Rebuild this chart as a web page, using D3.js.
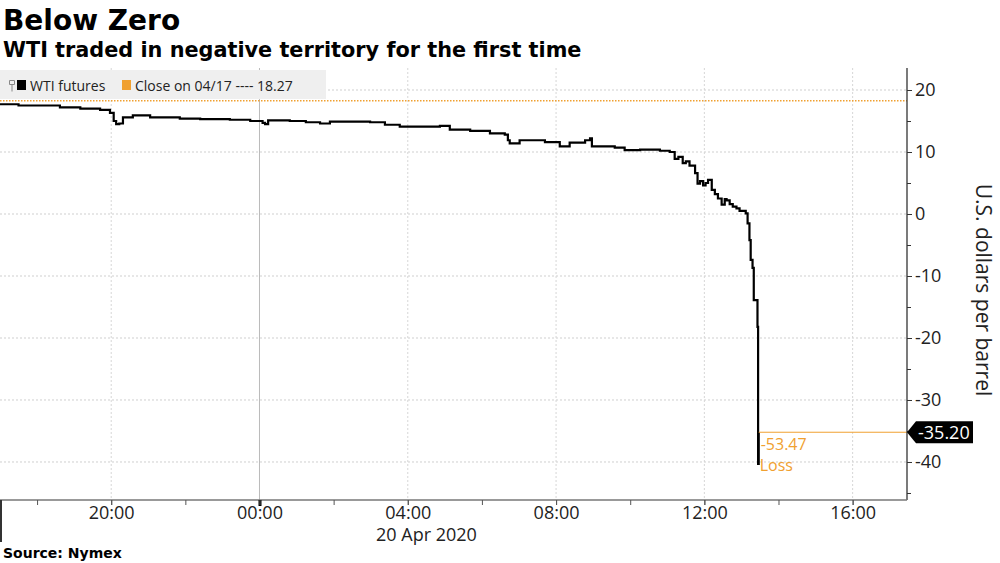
<!DOCTYPE html>
<html>
<head>
<meta charset="utf-8">
<script src="https://cdn.jsdelivr.net/npm/d3@7"></script>
<style>
  body { margin: 0; background: #fff; }
  svg { display: block; }
  .tick text { font-family: "Open Sans", sans-serif; }
</style>
</head>
<body>
<svg id="viz" width="1000" height="563"></svg>
<script>
// price readings, WTI May futures, 19-20 Apr 2020
var times = [
	"2020-04-19 17:00", "2020-04-19 17:30", "2020-04-19 18:37", "2020-04-19 19:10", "2020-04-19 19:42",
	"2020-04-19 19:58", "2020-04-19 20:04", "2020-04-19 20:08", "2020-04-19 20:13", "2020-04-19 20:19",
	"2020-04-19 20:35", "2020-04-19 21:03", "2020-04-19 21:51", "2020-04-19 22:24", "2020-04-19 23:12",
	"2020-04-19 23:45", "2020-04-20 00:05", "2020-04-20 00:09", "2020-04-20 00:14", "2020-04-20 00:49",
	"2020-04-20 01:15", "2020-04-20 01:38", "2020-04-20 01:54", "2020-04-20 02:59", "2020-04-20 03:23",
	"2020-04-20 03:47", "2020-04-20 04:52", "2020-04-20 05:08", "2020-04-20 05:41", "2020-04-20 06:13",
	"2020-04-20 06:37", "2020-04-20 06:42", "2020-04-20 06:45", "2020-04-20 07:01", "2020-04-20 07:42",
	"2020-04-20 08:06", "2020-04-20 08:22", "2020-04-20 08:47", "2020-04-20 08:55", "2020-04-20 08:58",
	"2020-04-20 09:35", "2020-04-20 09:51", "2020-04-20 10:16", "2020-04-20 10:48", "2020-04-20 11:04",
	"2020-04-20 11:12", "2020-04-20 11:18", "2020-04-20 11:25", "2020-04-20 11:30", "2020-04-20 11:36",
	"2020-04-20 11:45", "2020-04-20 11:49", "2020-04-20 11:53", "2020-04-20 11:58", "2020-04-20 12:02",
	"2020-04-20 12:06", "2020-04-20 12:12", "2020-04-20 12:17", "2020-04-20 12:22", "2020-04-20 12:28",
	"2020-04-20 12:33", "2020-04-20 12:36", "2020-04-20 12:41", "2020-04-20 12:46", "2020-04-20 12:52",
	"2020-04-20 12:57", "2020-04-20 13:07", "2020-04-20 13:10", "2020-04-20 13:13", "2020-04-20 13:15",
	"2020-04-20 13:18", "2020-04-20 13:20", "2020-04-20 13:26", "2020-04-20 13:27", "2020-04-20 13:28"
];
var prices = [
	17.7, 17.5, 17.2, 17.0, 16.8,
	16.3, 15.0, 14.5, 14.6, 15.6,
	15.9, 15.6, 15.4, 15.3, 15.2,
	15.0, 14.7, 14.5, 15.1, 15.0,
	14.8, 14.6, 14.9, 14.8, 14.4,
	14.1, 14.2, 13.6, 13.4, 13.0,
	12.8, 11.9, 11.4, 11.9, 11.6,
	10.9, 11.5, 11.9, 12.2, 10.9,
	10.7, 10.3, 10.4, 10.2, 10.0,
	8.9, 9.2, 8.2, 8.5, 7.8,
	6.6, 4.9, 5.3, 4.6, 5.0,
	5.5, 3.9, 3.2, 2.5, 1.5,
	2.4, 2.2, 1.6, 1.2, 0.9,
	0.5, 0.1, -1.5, -4.2, -7.4,
	-8.7, -13.9, -18.2, -40.3, -35.2
];
var prevClose = 18.27;
var lastPrice = -35.20;
var change = -53.47;
var yTicks = [-40, -30, -20, -10, 0, 10, 20];
var yMinorTicks = [-45, -35, -25, -15, -5, 5, 15];

var width = 1000;
var height = 563;
var plot = { left: 0, right: 907, top: 68, bottom: 500 };
var orange = "#f0a030";
var hyphen = function (d) { return String(d); };

var parse = d3.timeParse("%Y-%m-%d %H:%M");
var data = times.map(function (t, i) { return { t: parse(t), v: prices[i] }; });

var x = d3.scaleTime()
	.domain([parse("2020-04-19 17:00"), parse("2020-04-20 17:28")])
	.range([plot.left, plot.right]);
var y = d3.scaleLinear().domain([-46.13, 23.55]).range([plot.bottom, plot.top]);

var svg = d3.select("#viz");

// titles
svg.append("text").attr("x", 3).attr("y", 30)
	.style("font", "bold 28px 'DejaVu Sans', sans-serif").attr("fill", "#000")
	.text("Below Zero");
svg.append("text").attr("x", 3).attr("y", 57)
	.style("font", "bold 20.8px 'DejaVu Sans', sans-serif").attr("fill", "#000")
	.text("WTI traded in negative territory for the first time");
svg.append("text").attr("x", 3).attr("y", 558)
	.style("font", "bold 14px 'DejaVu Sans', sans-serif").attr("fill", "#000")
	.text("Source: Nymex");

// grid
var grid = svg.append("g");
grid.selectAll(".hgrid").data(yTicks).enter().append("line")
	.attr("x1", plot.left).attr("x2", plot.right)
	.attr("y1", function (d) { return y(d); }).attr("y2", function (d) { return y(d); })
	.attr("stroke", "#cfcfcf").attr("stroke-dasharray", "2,2");
var hourTicks = x.ticks(d3.timeHour.every(4));
grid.selectAll(".vgrid").data(hourTicks).enter().append("line")
	.attr("x1", function (d) { return x(d); }).attr("x2", function (d) { return x(d); })
	.attr("y1", plot.top).attr("y2", plot.bottom)
	.attr("stroke", function (d) { return d.getHours() === 0 ? "#bbbbbb" : "#d6d6d6"; })
	.attr("stroke-dasharray", function (d) { return d.getHours() === 0 ? null : "2,2"; });

// legend
var legend = svg.append("g");
legend.append("rect").attr("x", 0).attr("y", 70).attr("width", 326).attr("height", 29).attr("fill", "#efefef");
legend.append("path").attr("d", "M9.5,80.5h5v4h-5z M12,84.5v7").attr("fill", "none").attr("stroke", "#888").attr("stroke-width", 1);
legend.append("rect").attr("x", 17).attr("y", 80).attr("width", 9).attr("height", 10).attr("fill", "#000");
legend.append("text").attr("x", 30).attr("y", 91)
	.style("font", "14px 'Open Sans', sans-serif").attr("fill", "#222").text("WTI futures");
legend.append("rect").attr("x", 122).attr("y", 80).attr("width", 9).attr("height", 10).attr("fill", orange);
legend.append("text").attr("x", 135).attr("y", 91)
	.style("font", "14px 'Open Sans', sans-serif").attr("fill", "#222").text("Close on 04/17 ---- 18.27");

// previous close reference line
svg.append("line")
	.attr("x1", plot.left).attr("x2", plot.right)
	.attr("y1", y(prevClose)).attr("y2", y(prevClose))
	.attr("stroke", orange).attr("stroke-width", 1.5).attr("stroke-dasharray", "1.5,1.5");

// price line
var line = d3.line().curve(d3.curveStepAfter)
	.x(function (d) { return x(d.t); }).y(function (d) { return y(d.v); });
svg.append("path").datum(data)
	.attr("d", line).attr("fill", "none")
	.attr("stroke", "#000").attr("stroke-width", 2.2);

// last price marker
var lastT = data[data.length - 1].t;
svg.append("line")
	.attr("x1", x(lastT)).attr("x2", plot.right)
	.attr("y1", y(lastPrice)).attr("y2", y(lastPrice))
	.attr("stroke", orange).attr("stroke-width", 1);
svg.append("text").attr("x", x(lastT) + 2).attr("y", y(lastPrice) + 18)
	.style("font", "16px 'Open Sans', sans-serif").attr("fill", orange)
	.text(change.toFixed(2));
svg.append("text").attr("x", x(lastT) + 1).attr("y", y(lastPrice) + 39)
	.style("font", "16px 'Open Sans', sans-serif").attr("fill", orange)
	.text("Loss");

// right axis
var yAxis = d3.axisRight(y).tickValues(yTicks).tickFormat(hyphen).tickSize(5).tickPadding(3);
var gy = svg.append("g").attr("transform", "translate(" + plot.right + ",0)").call(yAxis);
gy.select(".domain").attr("d", "M0," + plot.top + "V" + plot.bottom).attr("stroke", "#333").attr("stroke-width", 1.3);
gy.selectAll(".tick line").attr("stroke", "#333");
gy.selectAll(".tick text").attr("fill", "#222").style("font-size", "18px");
var yMinor = d3.axisRight(y).tickValues(yMinorTicks).tickSize(4).tickFormat("");
svg.append("g").attr("transform", "translate(" + plot.right + ",0)").call(yMinor)
	.call(function (g) { g.select(".domain").remove(); g.selectAll(".tick line").attr("stroke", "#333"); });

// last price callout
var cy = y(lastPrice);
svg.append("path")
	.attr("d", "M" + plot.right + "," + cy + "L" + (plot.right + 9) + "," + (cy - 11) + "H973V" + (cy + 11) + "H" + (plot.right + 9) + "Z")
	.attr("fill", "#000");
svg.append("text").attr("x", plot.right + 11).attr("y", cy + 6.5)
	.style("font", "18px 'Open Sans', sans-serif").attr("fill", "#fff")
	.text(lastPrice.toFixed(2));

svg.append("text")
	.attr("transform", "translate(976," + 290 + ") rotate(90)")
	.attr("text-anchor", "middle")
	.style("font", "21px 'Open Sans', sans-serif").attr("fill", "#222")
	.text("U.S. dollars per barrel");

// bottom axis
var xAxis = d3.axisBottom(x).ticks(d3.timeHour.every(4)).tickFormat(d3.timeFormat("%H:%M")).tickSize(5).tickPadding(1);
var gx = svg.append("g").attr("transform", "translate(0," + plot.bottom + ")").call(xAxis);
gx.select(".domain").attr("d", "M" + plot.left + ",0H" + plot.right).attr("stroke", "#777").attr("stroke-width", 1.5);
gx.selectAll(".tick line").attr("stroke", "#555");
gx.selectAll(".tick text").attr("fill", "#222").style("font-size", "18px");
gx.selectAll(".tick").filter(function (d) { return d.getHours() === 0; })
	.select("line").attr("stroke", "#000").attr("stroke-width", 3).attr("y2", 6);
var xMinor = d3.axisBottom(x).ticks(d3.timeHour.every(2)).tickSize(5).tickFormat("");
svg.append("g").attr("transform", "translate(0," + plot.bottom + ")").call(xMinor)
	.call(function (g) { g.select(".domain").remove(); g.selectAll(".tick line").attr("stroke", "#555"); });

svg.append("line").attr("x1", 1).attr("x2", 1).attr("y1", plot.bottom).attr("y2", 542)
	.attr("stroke", "#333").attr("stroke-width", 2);
svg.append("text").attr("x", 376).attr("y", 541)
	.style("font", "18px 'Open Sans', sans-serif").attr("fill", "#222")
	.text("20 Apr 2020");
</script>
</body>
</html>
